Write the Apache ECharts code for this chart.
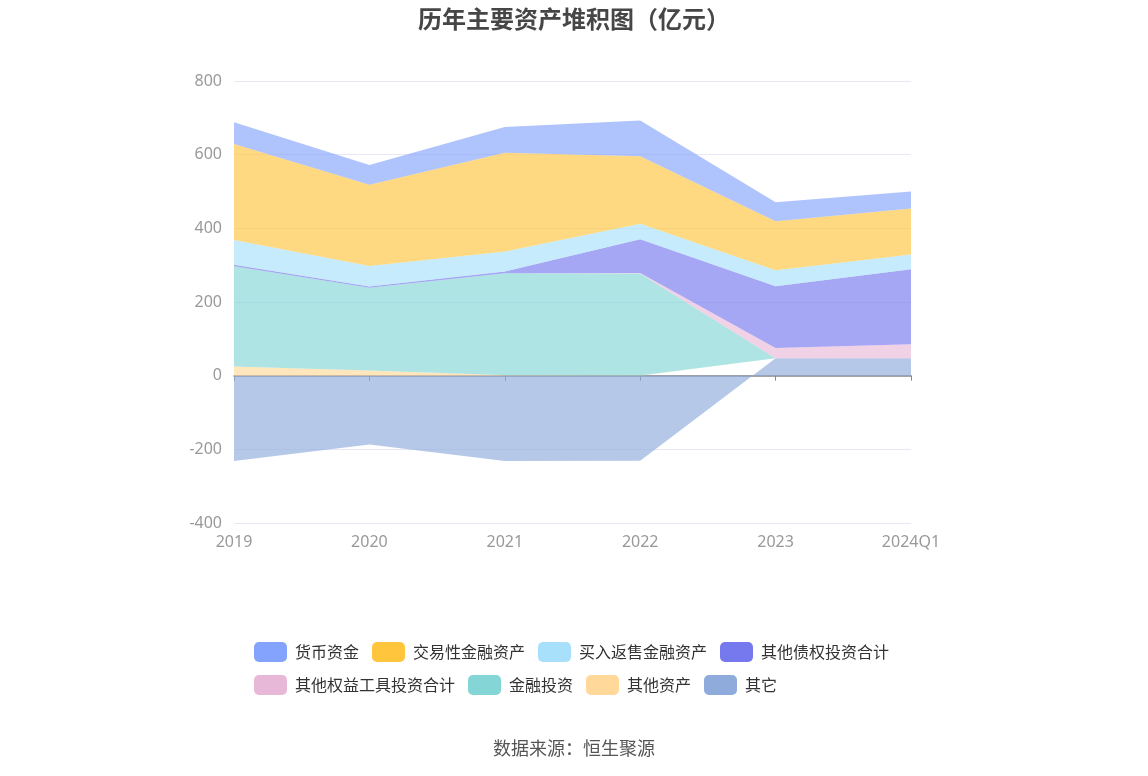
<!DOCTYPE html>
<html>
<head>
<meta charset="utf-8">
<script src="https://cdn.jsdelivr.net/npm/echarts@6/dist/echarts.min.js"></script>
<style>
  html, body { margin: 0; padding: 0; background: #fff; }
  #chart { width: 1148px; height: 776px; }
</style>
</head>
<body>
<div id="chart"></div>
<script>
var years = ['2019', '2020', '2021', '2022', '2023', '2024Q1'];

// values in 亿元
var huobi = [59, 54, 70, 97, 52, 46];          // 货币资金
var jiaoyi = [261, 220, 268, 183, 133, 125];   // 交易性金融资产
var maiRu = [67, 56, 54, 42, 43, 40];          // 买入返售金融资产
var zhaiQuan = [4, 3, 5, 92, 168, 204];        // 其他债权投资合计
var quanYi = [0, 0, 0, 1, 28, 38];             // 其他权益工具投资合计
var jinRong = [272, 225, 277, 277, 0, 0];      // 金融投资
var qitaZichan = [25, 14, 1, 0.5, 0, 0];       // 其他资产
var qita = [-232, -187, -232, -231, 47, 47];   // 其它

var legendNames = ['货币资金', '交易性金融资产', '买入返售金融资产', '其他债权投资合计',
    '其他权益工具投资合计', '金融投资', '其他资产', '其它'];

var chart = echarts.init(document.getElementById('chart'));

function area(name, data, color) {
    return {
        name: name,
        type: 'line',
        stack: 'total',
        data: data,
        showSymbol: false,
        symbol: 'none',
        itemStyle: { color: color },
        lineStyle: { width: 0 },
        areaStyle: { color: color, opacity: 0.65 }
    };
}

// stacked bottom-up, legend shown top-down
var series = [
    area('其它', qita, '#8fabdb'),
    area('其他资产', qitaZichan, '#ffd89a'),
    area('金融投资', jinRong, '#84d6d6'),
    area('其他权益工具投资合计', quanYi, '#e8b8d8'),
    area('其他债权投资合计', zhaiQuan, '#7678ee'),
    area('买入返售金融资产', maiRu, '#a8e0fb'),
    area('交易性金融资产', jiaoyi, '#ffc53d'),
    area('货币资金', huobi, '#84a3fc')
];

var option = {
    title: {
        text: '历年主要资产堆积图（亿元）',
        left: 'center',
        top: 2,
        textStyle: {
            color: '#464646',
            fontSize: 24,
            fontWeight: 'bold',
            fontFamily: 'Noto Sans CJK SC'
        }
    },
    legend: {
        data: legendNames,
        top: 637,
        left: 249,
        width: 670,
        itemWidth: 33,
        itemHeight: 20,
        itemGap: 13,
        icon: 'roundRect',
        textStyle: {
            fontSize: 16,
            color: '#333',
            padding: [0, 2, 0, 3],
            fontFamily: 'Noto Sans CJK SC'
        }
    },
    graphic: [{
        type: 'text',
        left: 'center',
        top: 739,
        style: {
            text: '数据来源：恒生聚源',
            fontSize: 18,
            fill: '#555',
            fontFamily: 'Noto Sans CJK SC'
        }
    }],
    grid: {
        left: 234,
        right: 237,
        top: 81,
        bottom: 253
    },
    xAxis: {
        type: 'category',
        data: years,
        boundaryGap: false,
        axisLine: { onZero: true, lineStyle: { color: '#888', width: 1.5 } },
        axisTick: { show: true, alignWithLabel: true, length: 5, lineStyle: { color: '#888' } },
        axisLabel: {
            color: '#999',
            fontSize: 16,
            margin: 11,
            fontFamily: 'Noto Sans'
        }
    },
    yAxis: {
        type: 'value',
        min: -400,
        max: 800,
        interval: 200,
        axisLine: { show: false },
        axisTick: { show: false },
        axisLabel: { color: '#999', fontSize: 16, margin: 12, fontFamily: 'Noto Sans' },
        splitLine: { lineStyle: { color: '#e6e9f5' } }
    },
    series: series
};

chart.setOption(option);
</script>
</body>
</html>
